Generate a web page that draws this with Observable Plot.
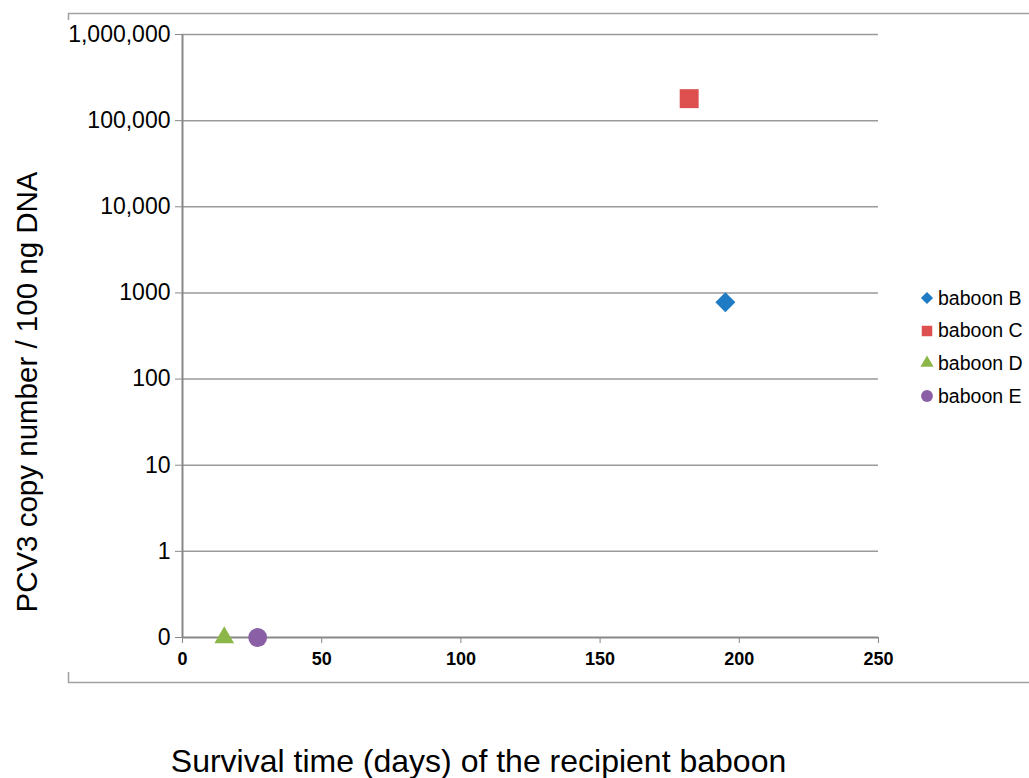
<!DOCTYPE html>
<html>
<head>
<meta charset="utf-8">
<script src="https://cdn.jsdelivr.net/npm/d3@7"></script>
<script src="https://cdn.jsdelivr.net/npm/@observablehq/plot@0.6"></script>
<style>
  html, body { margin: 0; padding: 0; background: #fff; }
  #wrap { position: relative; width: 1029px; height: 778px; font-family: "Liberation Sans", Arial, sans-serif; }
  #legend { position: absolute; left: 918px; top: 282px; font-size: 19.5px; color: #000; }
  #legend .row { height: 32.6px; display: flex; align-items: center; }
  #legend svg { width: 18px; height: 18px; margin-right: 2px; }
</style>
</head>
<body>
<div id="wrap"></div>
<script>
// ---- data ----
const baboons = ["baboon B", "baboon C", "baboon D", "baboon E"];
const survivalDays = [195, 182, 15, 27];
const pcv3Copies = [780, 180000, 0, 0];   // 0 is drawn on the "0" baseline of the log axis
const symbols = ["diamond2", "square", "triangle", "circle"];
const colors = ["#1f7bc3", "#de4f4f", "#8cb748", "#8a5fa6"];
const markerR = [9, 10.7, 7.3, 9.4];

const xTicks = [0, 50, 100, 150, 200, 250];
const yTicks = [0.1, 1, 10, 100, 1000, 10000, 100000, 1000000];
const yTickLabels = ["0", "1", "10", "100", "1000", "10,000", "100,000", "1,000,000"];
const xTitle = "Survival time (days) of the recipient baboon";
const yTitle = "PCV3 copy number / 100 ng DNA";

const yFloor = yTicks[0];
const data = baboons.map((name, i) => ({
  name, day: survivalDays[i], value: pcv3Copies[i] > 0 ? pcv3Copies[i] : yFloor,
  symbol: symbols[i], color: colors[i], r: markerR[i]
}));

const font = "Liberation Sans, Arial, sans-serif";

const chart = Plot.plot({
  width: 1029,
  height: 778,
  marginLeft: 182,
  marginRight: 151,
  marginTop: 34,
  marginBottom: 141,
  style: { fontFamily: font, background: "#fff", color: "#000" },
  x: { domain: [0, 250], label: null },
  y: { type: "log", domain: [yFloor, 1000000], label: null },
  marks: [
    Plot.ruleY(yTicks.slice(1), { x1: 0, x2: 250, stroke: "#9a9a9a", strokeWidth: 1.5 }),
    Plot.ruleY([yFloor], { x1: 0, x2: 250, stroke: "#888", strokeWidth: 2 }),
    Plot.ruleX([0], { stroke: "#888", strokeWidth: 2 }),
    Plot.axisY({
      ticks: yTicks, tickSize: 7, tickPadding: 5, stroke: "#888", fill: "#000",
      fontSize: 23, tickFormat: d => yTickLabels[yTicks.indexOf(d)], label: null
    }),
    Plot.axisX({
      ticks: xTicks, tickSize: 6, tickPadding: 9, stroke: "#888", fill: "#000",
      fontSize: 18, fontWeight: "bold", tickFormat: d => String(d), label: null
    }),
    ...data.map(d => Plot.dot([d], {
      x: "day", y: "value", symbol: () => d.symbol, r: d.r, fill: d.color, stroke: "none"
    })),
    Plot.text([yTitle], { frameAnchor: "left", dx: -155, dy: 56, rotate: -90, fontSize: 29.5, fill: "#000", textAnchor: "middle" }),
    Plot.text([xTitle], { frameAnchor: "bottom", dx: -52, dy: 134, fontSize: 32, fill: "#000", textAnchor: "middle" })
  ]
});

document.getElementById("wrap").appendChild(chart);

// decorative partial chart-area border
const svg = d3.select(chart);
const g = svg.append("g").attr("stroke", "#a0a0a0").attr("stroke-width", 1.5).attr("fill", "none");
g.append("path").attr("d", "M68.5,20V13.5H1029");
g.append("path").attr("d", "M68.5,672V682.5H1029");

// legend
const legend = d3.select("#wrap").append("div").attr("id", "legend");
const legendSize = { diamond2: 95, square: 110, triangle: 75, circle: 110 };
const symMap = { diamond2: d3.symbolDiamond2, square: d3.symbolSquare, triangle: d3.symbolTriangle, circle: d3.symbolCircle };
data.forEach(d => {
  const row = legend.append("div").attr("class", "row");
  const s = row.append("svg").attr("viewBox", "-9 -9 18 18");
  s.append("path").attr("d", d3.symbol(symMap[d.symbol], legendSize[d.symbol])()).attr("fill", d.color);
  row.append("span").text(d.name);
});
</script>
</body>
</html>
